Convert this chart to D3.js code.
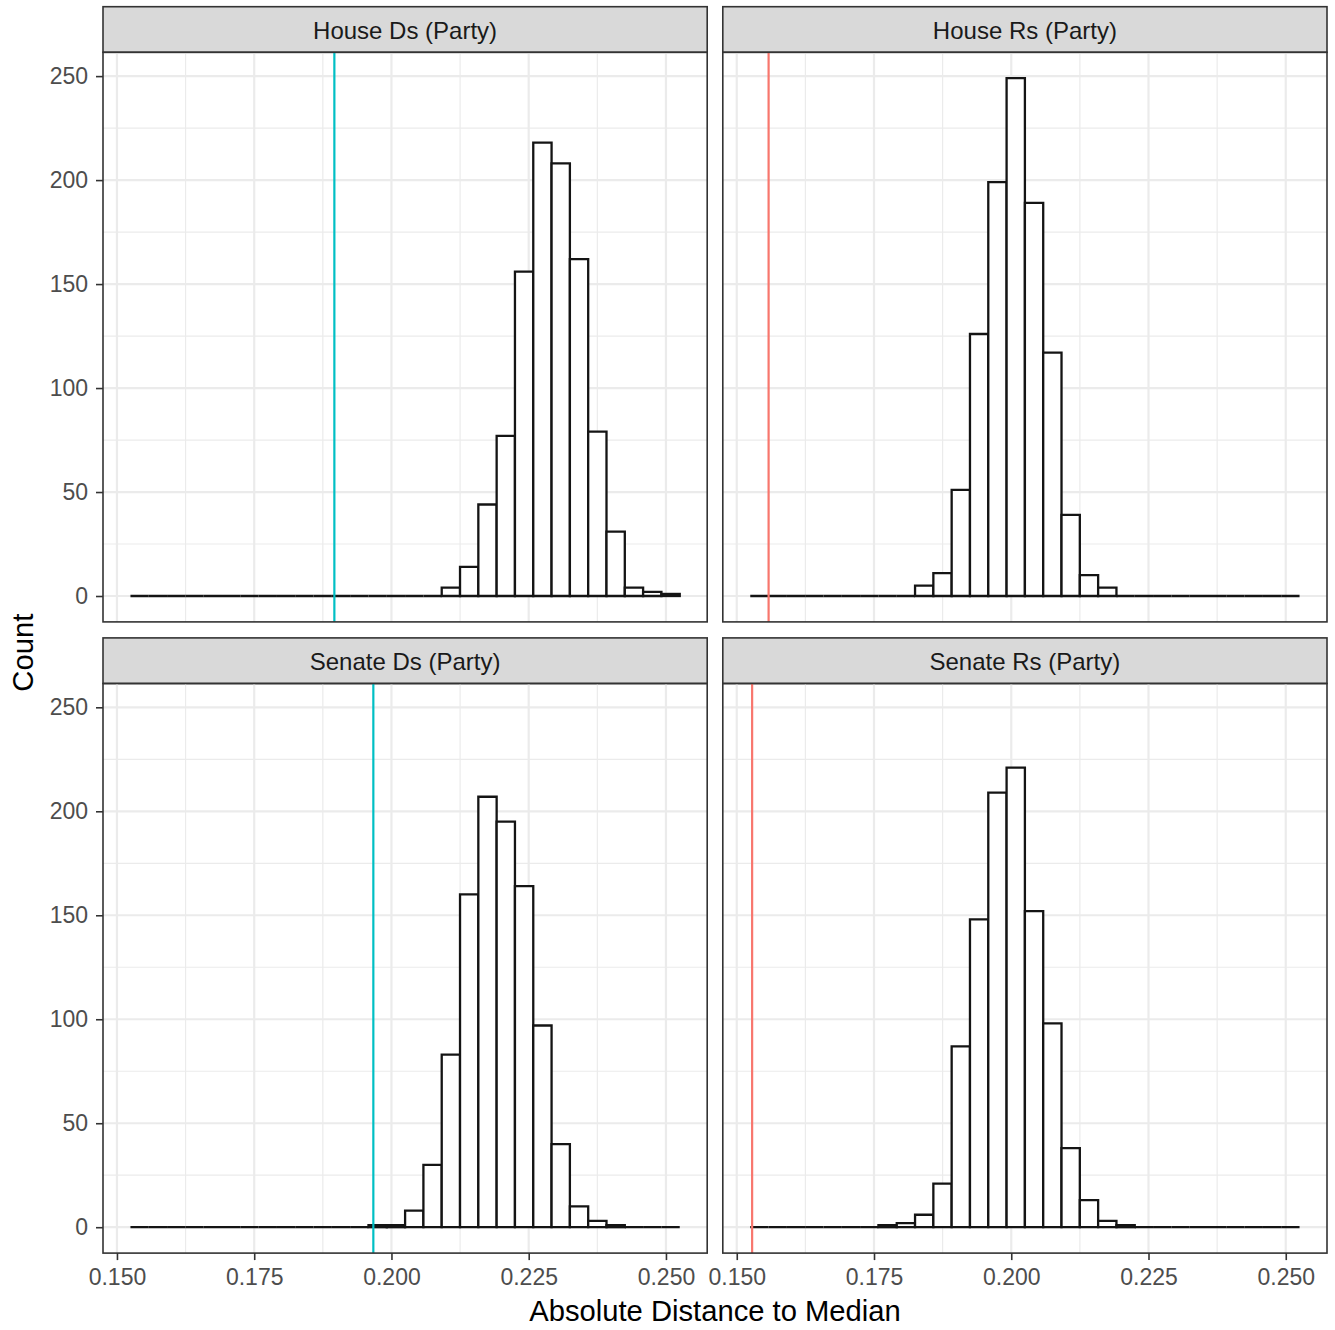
<!DOCTYPE html>
<html>
<head>
<meta charset="utf-8">
<script src="https://cdn.jsdelivr.net/npm/d3@7"></script>
<style>
  body { margin: 0; background: #fff; }
  svg { display: block; font-family: "Liberation Sans", Arial, sans-serif; }
</style>
</head>
<body>
<div id="chart"></div>
<script>
// ── Permutation histograms, 2x2 facets ──

const panelNames = ['House Ds (Party)', 'House Rs (Party)', 'Senate Ds (Party)', 'Senate Rs (Party)'];
const panelParty = ['D', 'R', 'D', 'R'];

// 30 bins shared by every facet
const binStart = 0.15246;
const binWidth = 0.003335;

const houseDsCounts  = [0,0,0,0,0,0,0,0,0,0, 0,0,0,0,0,0,0,4,14,44, 77,156,218,208,162,79,31,4,2,1];
const houseRsCounts  = [0,0,0,0,0,0,0,0,0,5, 11,51,126,199,249,189,117,39,10,4, 0,0,0,0,0,0,0,0,0,0];
const senateDsCounts = [0,0,0,0,0,0,0,0,0,0, 0,0,0,1,1,8,30,83,160,207, 195,164,97,40,10,3,1,0,0,0];
const senateRsCounts = [0,0,0,0,0,0,0,1,2,6, 21,87,148,209,221,152,98,38,13,3, 1,0,0,0,0,0,0,0,0,0];

// observed statistic per facet (vertical line)
const observedValues = [0.1896, 0.1558, 0.1967, 0.1528];

const xTicks = [0.150, 0.175, 0.200, 0.225, 0.250];
const xMinor = [0.1625, 0.1875, 0.2125, 0.2375];
const yTicks = [0, 50, 100, 150, 200, 250];
const yMinor = [25, 75, 125, 175, 225];

const partyColors = { D: '#00BFC4', R: '#F8766D' };

const W = 1335, H = 1330;
const marginLeft = 103, marginTop = 6.7;
const panelW = 604.2, colGap = 15.6;
const stripH = 45.6, panelH = 569.6, rowGap = 16;

const allCounts = [houseDsCounts, houseRsCounts, senateDsCounts, senateRsCounts];
const nBins = houseDsCounts.length;

// ggplot-style 5% expansion
const xLo = binStart, xHi = binStart + nBins * binWidth;
const xPad = (xHi - xLo) * 0.05;
const yMax = d3.max(allCounts.flat());
const yPad = yMax * 0.05;

const x = d3.scaleLinear().domain([xLo - xPad, xHi + xPad]).range([0, panelW]);
const y = d3.scaleLinear().domain([-yPad, yMax + yPad]).range([panelH, 0]);

const svg = d3.select('#chart').append('svg')
    .attr('width', W)
    .attr('height', H);

svg.append('rect').attr('width', W).attr('height', H).attr('fill', '#fff');

panelNames.forEach((name, i) => {
    const col = i % 2, row = Math.floor(i / 2);
    const px = marginLeft + col * (panelW + colGap);
    const stripY = marginTop + row * (stripH + panelH + rowGap);
    const py = stripY + stripH;

    // strip
    const strip = svg.append('g').attr('transform', `translate(${px},${stripY})`);
    strip.append('rect')
        .attr('width', panelW).attr('height', stripH)
        .attr('fill', '#D9D9D9').attr('stroke', '#333333').attr('stroke-width', 1.6);
    strip.append('text')
        .attr('x', panelW / 2).attr('y', 32.3)
        .attr('text-anchor', 'middle')
        .attr('font-size', 24)
        .attr('fill', '#1A1A1A')
        .text(name);

    const g = svg.append('g').attr('transform', `translate(${px},${py})`);

    // grid
    g.append('g').selectAll('line').data(xMinor).join('line')
        .attr('x1', d => x(d)).attr('x2', d => x(d)).attr('y1', 0).attr('y2', panelH)
        .attr('stroke', '#EBEBEB').attr('stroke-width', 1.2);
    g.append('g').selectAll('line').data(yMinor).join('line')
        .attr('y1', d => y(d)).attr('y2', d => y(d)).attr('x1', 0).attr('x2', panelW)
        .attr('stroke', '#EBEBEB').attr('stroke-width', 1.2);
    g.append('g').selectAll('line').data(xTicks).join('line')
        .attr('x1', d => x(d)).attr('x2', d => x(d)).attr('y1', 0).attr('y2', panelH)
        .attr('stroke', '#EBEBEB').attr('stroke-width', 2.2);
    g.append('g').selectAll('line').data(yTicks).join('line')
        .attr('y1', d => y(d)).attr('y2', d => y(d)).attr('x1', 0).attr('x2', panelW)
        .attr('stroke', '#EBEBEB').attr('stroke-width', 2.2);

    // histogram bars (path so that empty bins still draw a flat line)
    const bins = allCounts[i].map((c, k) => ({
        x0: binStart + k * binWidth,
        x1: binStart + (k + 1) * binWidth,
        count: c
    }));
    g.append('g').selectAll('path').data(bins).join('path')
        .attr('d', d => `M${x(d.x0)},${y(0)}V${y(d.count)}H${x(d.x1)}V${y(0)}Z`)
        .attr('fill', '#fff')
        .attr('stroke', '#141414')
        .attr('stroke-width', 2.3);

    // observed value
    g.append('line')
        .attr('x1', x(observedValues[i])).attr('x2', x(observedValues[i]))
        .attr('y1', 0).attr('y2', panelH)
        .attr('stroke', partyColors[panelParty[i]])
        .attr('stroke-width', 2.2);

    // border
    g.append('rect')
        .attr('width', panelW).attr('height', panelH)
        .attr('fill', 'none').attr('stroke', '#333333').attr('stroke-width', 1.6);

    // axes on outer panels only
    if (col === 0) {
        const ax = g.append('g').call(d3.axisLeft(y).tickValues(yTicks).tickSize(7).tickPadding(8));
        ax.select('.domain').remove();
        ax.selectAll('line').attr('stroke', '#333333').attr('stroke-width', 1.6);
        ax.selectAll('text').attr('font-size', 23).attr('fill', '#4D4D4D')
            .attr('font-family', '"Liberation Sans", Arial, sans-serif');
    }
    if (row === 1) {
        const ax = g.append('g').attr('transform', `translate(0,${panelH})`)
            .call(d3.axisBottom(x).tickValues(xTicks).tickFormat(d3.format('.3f')).tickSize(7).tickPadding(9));
        ax.select('.domain').remove();
        ax.selectAll('line').attr('stroke', '#333333').attr('stroke-width', 1.6);
        ax.selectAll('text').attr('font-size', 23).attr('fill', '#4D4D4D')
            .attr('font-family', '"Liberation Sans", Arial, sans-serif');
    }
});

// axis titles
const panelsBottom = marginTop + 2 * (stripH + panelH) + rowGap;
svg.append('text')
    .attr('x', marginLeft + panelW + colGap / 2)
    .attr('y', 1321)
    .attr('text-anchor', 'middle')
    .attr('font-size', 29.2)
    .attr('fill', '#000')
    .text('Absolute Distance to Median');

svg.append('text')
    .attr('transform', `translate(33,${(marginTop + stripH + panelsBottom) / 2}) rotate(-90)`)
    .attr('text-anchor', 'middle')
    .attr('font-size', 29.2)
    .attr('fill', '#000')
    .text('Count');
</script>
</body>
</html>
